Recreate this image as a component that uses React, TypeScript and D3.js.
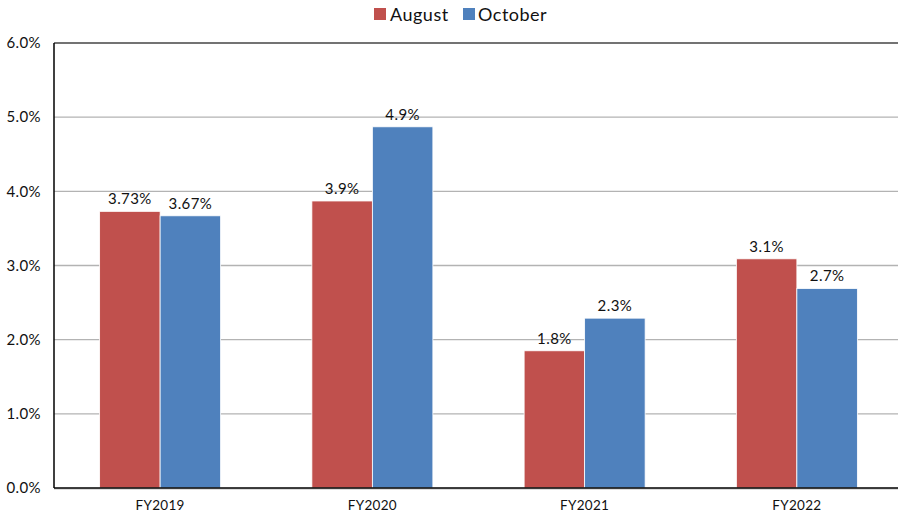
import React from "react";
import * as d3 from "d3";

const categories = ["FY2019", "FY2020", "FY2021", "FY2022"];
const seriesNames = ["August", "October"];
const augustValues = [3.73, 3.87, 1.85, 3.09];
const octoberValues = [3.67, 4.87, 2.29, 2.69];
const augustLabels = ["3.73%", "3.9%", "1.8%", "3.1%"];
const octoberLabels = ["3.67%", "4.9%", "2.3%", "2.7%"];
const yTicks = [0, 1, 2, 3, 4, 5, 6];

const colors = ["#c0504d", "#4f81bd"];
const font = "Lato, 'DejaVu Sans', sans-serif";

const width = 898;
const height = 514;
// plot area runs a little past the right edge of the picture
const margin = { top: 43, right: -5, bottom: 26, left: 54 };

export default function App() {
  const innerW = width - margin.left - margin.right;
  const innerH = height - margin.top - margin.bottom;

  const x = d3.scaleBand().domain(categories).range([0, innerW]).paddingInner(0).paddingOuter(0);
  const y = d3.scaleLinear().domain([0, 6]).range([innerH, 0]);
  const sub = d3.scaleBand().domain(seriesNames).range([0, 121]);

  const series = [
    { name: seriesNames[0], values: augustValues, labels: augustLabels, color: colors[0] },
    { name: seriesNames[1], values: octoberValues, labels: octoberLabels, color: colors[1] },
  ];

  return (
    <svg
      width={width}
      height={height}
      style={{ position: "absolute", left: 0, top: 0, background: "#fff" }}
      fontFamily={font}
    >
      {/* legend */}
      <g letterSpacing={0.5}>
        <rect x={374} y={8} width={12} height={12} fill={colors[0]} />
        <text x={390} y={20.5} fontSize={18} fill="#111">August</text>
        <rect x={463} y={8} width={12} height={12} fill={colors[1]} />
        <text x={478} y={20.5} fontSize={18} fill="#111">October</text>
      </g>

      <g transform={`translate(${margin.left},${margin.top})`}>
        {yTicks.map((t) => (
          <g key={t}>
            {t > 0 && t < 6 && (
              <line x1={0} x2={innerW} y1={y(t)} y2={y(t)} stroke="#b3b3b3" strokeWidth={1.3} />
            )}
            <text
              x={-13}
              y={y(t)}
              dy="0.35em"
              textAnchor="end"
              fontSize={15}
              letterSpacing={0.4}
              fill="#111"
            >
              {t.toFixed(1)}%
            </text>
          </g>
        ))}
        <line x1={0} x2={innerW} y1={y(6)} y2={y(6)} stroke="#444" strokeWidth={1.5} />

        {categories.map((c, i) => {
          const gx = (x(c) ?? 0) + x.bandwidth() / 2 - 60.5;
          return (
            <g key={c} transform={`translate(${gx},0)`}>
              {series.map((s) => {
                const bx = sub(s.name) ?? 0;
                const v = s.values[i];
                return (
                  <g key={s.name}>
                    <rect
                      x={bx}
                      y={y(v)}
                      width={sub.bandwidth()}
                      height={innerH - y(v)}
                      fill={s.color}
                      stroke="#fff"
                      strokeWidth={0.8}
                    />
                    <text
                      x={bx + sub.bandwidth() / 2}
                      y={y(v) - 7}
                      textAnchor="middle"
                      fontSize={15}
                      letterSpacing={0.4}
                      fill="#111"
                    >
                      {s.labels[i]}
                    </text>
                  </g>
                );
              })}
            </g>
          );
        })}

        <line x1={0} x2={innerW} y1={innerH + 1} y2={innerH + 1} stroke="#bbb" strokeWidth={1} />
        <line x1={0} x2={innerW} y1={innerH} y2={innerH} stroke="#000" strokeWidth={1.5} />
        <line x1={0} x2={0} y1={0} y2={innerH} stroke="#000" strokeWidth={1.5} />

        {categories.map((c) => (
          <text
            key={c}
            x={(x(c) ?? 0) + x.bandwidth() / 2}
            y={innerH + 22}
            textAnchor="middle"
            fontSize={13.5}
            letterSpacing={0.3}
            fill="#111"
          >
            {c}
          </text>
        ))}
      </g>
    </svg>
  );
}
